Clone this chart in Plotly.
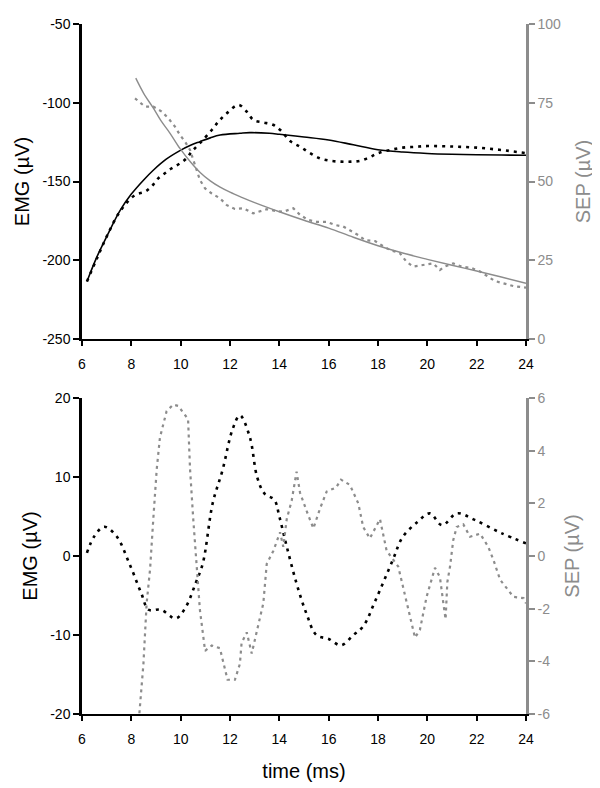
import plotly.graph_objects as go

# top panel: EMG (left axis) and SEP (right axis), raw (dotted) and fitted (solid)
t_emg_top = [6.2, 6.6, 7.0, 7.54, 8.15, 8.55, 8.83, 9.09, 9.36, 9.64, 9.97, 10.24, 10.45, 10.78, 11.26,
             11.53, 11.87, 12.34, 12.7, 12.95, 13.35, 13.75, 14.05, 14.45, 14.85, 15.25, 15.65, 16.05,
             16.5, 16.9, 17.3, 17.7, 18.0, 18.5, 19, 19.5, 20, 21, 22, 23, 24]
emg_top = [-213.5, -199, -185, -169, -158.6, -156.5, -153, -148, -144.8, -141.6, -138.5, -135.3, -131,
           -125.7, -117.3, -112, -106.7, -101.4, -106, -111, -112.5, -114, -117.5, -124.5, -128, -132,
           -135.3, -136.8, -137.4, -137.4, -136.8, -134.3, -132, -130, -128.5, -128, -127.5, -127.8,
           -128.5, -130, -132]

t_emg_fit = [6.2, 6.6, 7.0, 7.54, 8.0, 8.5, 8.9, 9.4, 9.97, 10.4, 10.78, 11.2, 11.6, 12.4, 12.8, 13.6,
             14, 15, 16, 17, 18, 19, 20, 21, 22, 23, 24]
emg_fit = [-213.5, -198, -185, -168.5, -158, -149, -142.7, -136, -130.4, -127, -124.7, -122.3, -120.5,
           -119.4, -119, -119.4, -120, -121.7, -123.6, -126.7, -129.8, -131.3, -132.2, -132.7, -133,
           -133.2, -133.3]

t_sep_top = [8.15, 8.55, 8.89, 9.23, 9.5, 9.77, 9.97, 10.18, 10.38, 10.51, 10.65, 10.78, 10.99, 11.26,
             11.59, 11.87, 12.2, 12.54, 12.94, 13.49, 13.82, 14.16, 14.57, 14.84, 15.17, 15.51, 15.92,
             16.26, 16.59, 16.86, 17.2, 17.47, 17.88, 18.2, 18.48, 18.89, 19.16, 19.43, 19.84, 20.24,
             20.51, 20.71, 21.05, 21.39, 21.8, 22.14, 22.74, 23.08, 23.49, 23.9, 24]
sep_top = [76.4, 73.8, 73.8, 72.2, 70.1, 67.4, 64.8, 62.6, 60, 56.8, 53.7, 50.5, 47.8, 46.2, 44.7, 42.5,
           41.3, 41.5, 39.9, 41.2, 40.7, 40.4, 41.5, 39.4, 37.8, 37.2, 37.2, 36.2, 35.7, 34.6, 33.0, 31.4,
           31.1, 29.5, 28.3, 27.2, 24.5, 23.0, 23.5, 24.0, 21.9, 23.0, 24.0, 23.0, 22.5, 21.4, 18.4, 17.7,
           16.8, 16.4, 16.3]

t_sep_fit = [8.18, 8.5, 8.9, 9.2, 9.57, 9.97, 10.4, 10.8, 11.2, 11.6, 12.0, 12.5, 13, 14, 15, 16, 17, 18,
             19, 20, 21, 22, 23, 24]
sep_fit = [82.8, 78, 73.2, 69.3, 65.3, 60.5, 56.2, 52.8, 50.2, 48.2, 46.6, 44.9, 43.3, 40.4, 37.7, 35.2,
           32.3, 29.6, 27.3, 25.3, 23.4, 21.6, 19.7, 17.7]

# bottom panel: residuals
t_emg_bot = [6.2, 6.5, 6.9, 7.4, 7.9, 8.4, 8.7, 9.2, 9.8, 10.2, 10.6, 10.9, 11.3, 11.7, 12.1, 12.4, 12.8,
             13.1, 13.4, 13.8, 14.0, 14.3, 14.7, 15.1, 15.5, 16, 16.5, 17.0, 17.4, 17.9, 18.6, 19.0, 19.6,
             20.1, 20.6, 21.2, 21.9, 23.0, 24]
emg_bot = [0.4, 2.5, 3.7, 2.5, -0.8, -4.7, -6.8, -6.8, -7.9, -6.5, -3.5, -0.9, 6.7, 10.9, 16, 17.8, 15.1,
           10, 7.9, 7.1, 5, 1.2, -3.5, -7.3, -10, -10.5, -11.3, -10, -8.9, -5.6, -0.5, 2.4, 4.3, 5.4, 3.9,
           5.4, 4.6, 2.9, 1.6]

t_sep_bot = [8.28, 8.49, 8.62, 8.76, 8.89, 9.03, 9.16, 9.43, 9.7, 9.9, 10.3, 10.38, 10.51, 10.65, 10.78,
             10.99, 11.26, 11.59, 11.8, 11.9, 12.2, 12.4, 12.47, 12.68, 12.88, 13.08, 13.35, 13.49, 13.76,
             14.03, 14.16, 14.3, 14.5, 14.7, 14.84, 15.11, 15.38, 15.65, 15.92, 16.3, 16.5, 16.86, 17.2,
             17.4, 17.67, 18.08, 18.35, 18.82, 19.16, 19.5, 19.7, 19.97, 20.31, 20.51, 20.65, 20.74, 20.81,
             20.92, 21.05, 21.19, 21.46, 21.73, 22.14, 22.47, 22.68, 22.95, 23.49, 23.9, 24]
sep_bot = [-6.5, -4.1, -1.8, -0.5, 1.4, 3.3, 4.5, 5.5, 5.75, 5.7, 5.2, 3.3, 1.4, -0.5, -2.05, -3.6, -3.4,
           -3.5, -4.4, -4.7, -4.7, -4.1, -3.3, -2.9, -3.7, -2.9, -1.8, -0.3, 0.2, 0.9, 0.35, 1.4, 2.1, 3.2,
           2.4, 1.7, 1.05, 1.8, 2.45, 2.6, 2.9, 2.7, 2.0, 1.1, 0.67, 1.4, 0.2, -0.4, -1.7, -3.1, -2.8,
           -1.55, -0.45, -0.8, -1.8, -2.4, -1.0, -0.4, 0.6, 1.1, 1.2, 0.73, 0.85, 0.35, -0.15, -0.9, -1.55,
           -1.6, -1.8]

x_ticks = [6, 8, 10, 12, 14, 16, 18, 20, 22, 24]
emg_top_ticks = [-250, -200, -150, -100, -50]
sep_top_ticks = [0, 25, 50, 75, 100]
emg_bot_ticks = [-20, -10, 0, 10, 20]
sep_bot_ticks = [-6, -4, -2, 0, 2, 4, 6]

GRAY = "#8c8c8c"
FONT = "Liberation Sans, Arial, sans-serif"
# page body adds an 8px margin, so the figure is 8px smaller on each side
W, H, OFF = 592, 780, 8


def px_x(x):
    return (x - OFF) / W


def px_y(y):
    return 1 - (y - OFF) / H


def lbl(vals):
    return [str(v) for v in vals]


fig = go.Figure()
fig.add_trace(go.Scatter(x=t_emg_fit, y=emg_fit, mode="lines", line=dict(color="black", width=1.6, shape="spline"),
                         xaxis="x", yaxis="y"))
fig.add_trace(go.Scatter(x=t_emg_top, y=emg_top, mode="lines",
                         line=dict(color="black", width=2.6, dash="3px,5px", shape="spline"), xaxis="x", yaxis="y"))
fig.add_trace(go.Scatter(x=t_sep_fit, y=sep_fit, mode="lines", line=dict(color=GRAY, width=1.4, shape="spline"),
                         xaxis="x", yaxis="y2"))
fig.add_trace(go.Scatter(x=t_sep_top, y=sep_top, mode="lines",
                         line=dict(color=GRAY, width=2.2, dash="3px,4px"), xaxis="x", yaxis="y2"))
fig.add_trace(go.Scatter(x=t_emg_bot, y=emg_bot, mode="lines",
                         line=dict(color="black", width=2.6, dash="3px,5px", shape="spline"), xaxis="x2", yaxis="y3"))
fig.add_trace(go.Scatter(x=t_sep_bot, y=sep_bot, mode="lines",
                         line=dict(color=GRAY, width=2.2, dash="3px,4px"), xaxis="x2", yaxis="y4"))

xdom = [px_x(82), px_x(526)]
top_dom = [px_y(339), px_y(24)]
bot_dom = [px_y(714), px_y(398)]

common_x = dict(domain=xdom, range=[6, 24], tickvals=x_ticks, ticktext=lbl(x_ticks), ticks="outside",
                ticklen=5, tickwidth=2, tickcolor="black", showline=True, linecolor="black", linewidth=2,
                showgrid=False, zeroline=False, tickfont=dict(size=14, color="black"), ticklabelstandoff=6,
                automargin=False)
left_y = dict(ticks="outside", ticklen=6, tickwidth=2, tickcolor="black", showline=True, linecolor="black",
              linewidth=2.5, showgrid=False, zeroline=False, tickfont=dict(size=14, color="black"),
              title=dict(text="EMG (µV)", font=dict(size=20, color="black"), standoff=8), automargin=False)
right_y = dict(side="right", ticks="outside", ticklen=6, tickwidth=2, tickcolor=GRAY, showline=True,
               linecolor=GRAY, linewidth=2.5, showgrid=False, zeroline=False,
               tickfont=dict(size=14, color=GRAY),
               title=dict(text="SEP (µV)", font=dict(size=20, color=GRAY), standoff=16), automargin=False)

fig.update_layout(
    width=W, height=H, showlegend=False,
    paper_bgcolor="white", plot_bgcolor="white",
    margin=dict(l=0, r=0, t=0, b=0),
    font=dict(family=FONT),
    xaxis=dict(anchor="y", **common_x),
    yaxis=dict(domain=top_dom, anchor="x", range=[-250, -50], tickvals=emg_top_ticks,
               ticktext=lbl(emg_top_ticks), **left_y),
    yaxis2=dict(overlaying="y", anchor="x", range=[0, 100], tickvals=sep_top_ticks,
                ticktext=lbl(sep_top_ticks), **right_y),
    xaxis2=dict(anchor="y3", title=dict(text="time (ms)", font=dict(size=20, color="black"), standoff=18),
                **common_x),
    yaxis3=dict(domain=bot_dom, anchor="x2", range=[-20, 20], tickvals=emg_bot_ticks,
                ticktext=lbl(emg_bot_ticks), **left_y),
    yaxis4=dict(overlaying="y3", anchor="x2", range=[-6, 6], tickvals=sep_bot_ticks,
                ticktext=lbl(sep_bot_ticks), **right_y),
)

fig.write_html("out.html")
